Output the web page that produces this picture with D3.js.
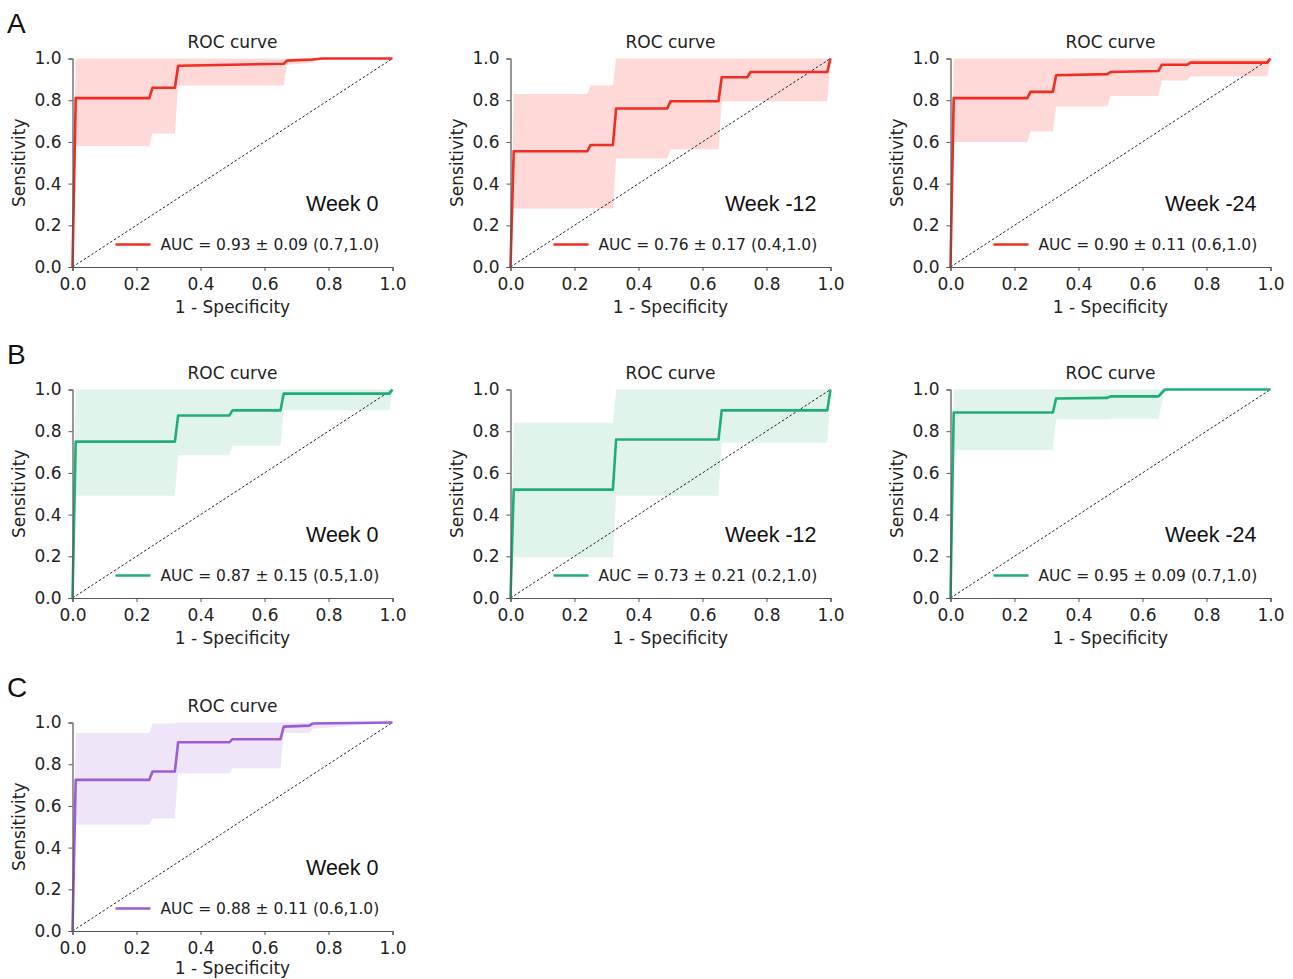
<!DOCTYPE html>
<html><head><meta charset="utf-8">
<script src="https://cdn.jsdelivr.net/npm/d3@7"></script>
<style>
body{margin:0;background:#fff;}
svg{display:block;}
.tick text{font-family:"DejaVu Sans",sans-serif;font-size:17px;fill:#222;}
</style></head>
<body><svg id="c" width="1293" height="979"></svg>
<script>
// ---- data ----
const xTicks = [0, 0.2, 0.4, 0.6, 0.8, 1.0];
const yTicks = [0, 0.2, 0.4, 0.6, 0.8, 1.0];

const a1Fpr = [0, 0.01, 0.24, 0.25, 0.32, 0.33, 0.66, 0.67, 0.75, 0.78, 1.0];
const a1Tpr = [0, 0.81, 0.81, 0.86, 0.86, 0.965, 0.975, 0.99, 0.995, 1.0, 1.0];
const a1Lo  = [0, 0.58, 0.58, 0.64, 0.64, 0.87, 0.87, 0.97, 0.98, 1.0, 1.0];
const a1Hi  = [0, 1, 1, 1, 1, 1, 1, 1, 1, 1, 1];

const a2Fpr = [0, 0.01, 0.24, 0.25, 0.32, 0.33, 0.49, 0.5, 0.65, 0.66, 0.74, 0.75, 0.99, 1.0];
const a2Tpr = [0, 0.555, 0.555, 0.585, 0.585, 0.76, 0.76, 0.795, 0.795, 0.91, 0.91, 0.935, 0.935, 1.0];
const a2Lo  = [0, 0.28, 0.28, 0.28, 0.28, 0.52, 0.52, 0.565, 0.565, 0.795, 0.795, 0.795, 0.795, 1.0];
const a2Hi  = [0, 0.83, 0.83, 0.87, 0.87, 1, 1, 1, 1, 1, 1, 1, 1, 1];

const a3Fpr = [0, 0.01, 0.24, 0.25, 0.32, 0.33, 0.49, 0.5, 0.65, 0.66, 0.74, 0.75, 0.99, 1.0];
const a3Tpr = [0, 0.81, 0.81, 0.84, 0.84, 0.92, 0.925, 0.935, 0.94, 0.97, 0.97, 0.98, 0.98, 1.0];
const a3Lo  = [0, 0.6, 0.6, 0.65, 0.65, 0.77, 0.77, 0.82, 0.82, 0.895, 0.895, 0.915, 0.915, 1.0];
const a3Hi  = [0, 1, 1, 1, 1, 1, 1, 1, 1, 1, 1, 1, 1, 1];

const b1Fpr = [0, 0.01, 0.32, 0.33, 0.49, 0.5, 0.65, 0.66, 0.99, 1.0];
const b1Tpr = [0, 0.75, 0.75, 0.875, 0.875, 0.9, 0.9, 0.98, 0.98, 1.0];
const b1Lo  = [0, 0.49, 0.49, 0.685, 0.685, 0.73, 0.73, 0.9, 0.9, 1.0];
const b1Hi  = [0, 1, 1, 1, 1, 1, 1, 1, 1, 1];

const b2Fpr = [0, 0.01, 0.32, 0.33, 0.65, 0.66, 0.99, 1.0];
const b2Tpr = [0, 0.52, 0.52, 0.76, 0.76, 0.9, 0.9, 1.0];
const b2Lo  = [0, 0.195, 0.195, 0.49, 0.49, 0.745, 0.745, 1.0];
const b2Hi  = [0, 0.84, 0.84, 1, 1, 1, 1, 1];

const b3Fpr = [0, 0.01, 0.32, 0.33, 0.49, 0.5, 0.65, 0.67, 1.0];
const b3Tpr = [0, 0.89, 0.89, 0.957, 0.96, 0.967, 0.967, 1.0, 1.0];
const b3Lo  = [0, 0.71, 0.71, 0.857, 0.857, 0.86, 0.86, 1.0, 1.0];
const b3Hi  = [0, 1, 1, 1, 1, 1, 1, 1, 1];

const c1Fpr = [0, 0.01, 0.24, 0.25, 0.32, 0.33, 0.49, 0.5, 0.65, 0.66, 0.74, 0.75, 1.0];
const c1Tpr = [0, 0.725, 0.725, 0.765, 0.765, 0.905, 0.905, 0.92, 0.92, 0.98, 0.985, 0.995, 1.0];
const c1Lo  = [0, 0.51, 0.51, 0.54, 0.54, 0.755, 0.755, 0.78, 0.78, 0.95, 0.95, 0.97, 1.0];
const c1Hi  = [0, 0.95, 0.95, 0.995, 0.995, 1, 1, 1, 1, 1, 1, 1, 1];

const weekLabels = ["Week 0", "Week -12", "Week -24", "Week 0", "Week -12", "Week -24", "Week 0"];
const aucLabels = [
  "AUC = 0.93 \u00b1 0.09 (0.7,1.0)",
  "AUC = 0.76 \u00b1 0.17 (0.4,1.0)",
  "AUC = 0.90 \u00b1 0.11 (0.6,1.0)",
  "AUC = 0.87 \u00b1 0.15 (0.5,1.0)",
  "AUC = 0.73 \u00b1 0.21 (0.2,1.0)",
  "AUC = 0.95 \u00b1 0.09 (0.7,1.0)",
  "AUC = 0.88 \u00b1 0.11 (0.6,1.0)"
];
const panelLetters = ["A", "B", "C"];

// ---- layout ----
const colX = [72.5, 510.5, 950.5];
const rowY = [58.5, 389.5, 722.5];
const W = 320, H = 208.5;
const palette = {
  red:    {line: "#ef2d22", fill: "#ff7070", op: 0.27},
  green:  {line: "#1fae78", fill: "#22b07a", op: 0.14},
  purple: {line: "#9d5bd6", fill: "#9d5bd6", op: 0.16}
};

const panels = [
  {r:0, c:0, fpr:a1Fpr, tpr:a1Tpr, lo:a1Lo, hi:a1Hi, col:"red"},
  {r:0, c:1, fpr:a2Fpr, tpr:a2Tpr, lo:a2Lo, hi:a2Hi, col:"red"},
  {r:0, c:2, fpr:a3Fpr, tpr:a3Tpr, lo:a3Lo, hi:a3Hi, col:"red"},
  {r:1, c:0, fpr:b1Fpr, tpr:b1Tpr, lo:b1Lo, hi:b1Hi, col:"green"},
  {r:1, c:1, fpr:b2Fpr, tpr:b2Tpr, lo:b2Lo, hi:b2Hi, col:"green"},
  {r:1, c:2, fpr:b3Fpr, tpr:b3Tpr, lo:b3Lo, hi:b3Hi, col:"green"},
  {r:2, c:0, fpr:c1Fpr, tpr:c1Tpr, lo:c1Lo, hi:c1Hi, col:"purple"}
];

const svg = d3.select("#c");
const x = d3.scaleLinear().domain([0, 1]).range([0, W]);
const y = d3.scaleLinear().domain([0, 1]).range([H, 0]);

panelLetters.forEach((L, i) => {
  svg.append("text").attr("x", 7).attr("y", rowY[i] - 25.5)
    .attr("font-family", "Liberation Sans, Arial, sans-serif").attr("font-size", 28)
    .attr("fill", "#111").text(L);
});

panels.forEach((p, i) => {
  const g = svg.append("g").attr("transform", `translate(${colX[p.c]},${rowY[p.r]})`);
  const pal = palette[p.col];
  const pts = p.fpr.map((f, k) => ({f, t: p.tpr[k], lo: p.lo[k], hi: p.hi[k]}));

  g.append("path").datum(pts)
    .attr("d", d3.area().x(d => x(d.f)).y0(d => y(d.lo)).y1(d => y(d.hi)))
    .attr("fill", pal.fill).attr("fill-opacity", pal.op);

  g.append("line").attr("x1", x(0)).attr("y1", y(0)).attr("x2", x(1)).attr("y2", y(1))
    .attr("stroke", "#222").attr("stroke-width", 1).attr("stroke-dasharray", "2.5,2");

  g.append("path").datum(pts)
    .attr("d", d3.line().x(d => x(d.f)).y(d => y(d.t)))
    .attr("fill", "none").attr("stroke", pal.line).attr("stroke-width", 2.6)
    .attr("stroke-linejoin", "round");

  const xa = g.append("g").attr("transform", `translate(0,${H})`)
    .call(d3.axisBottom(x).tickValues(xTicks).tickFormat(d3.format(".1f")).tickSize(4).tickPadding(7));
  const ya = g.append("g")
    .call(d3.axisLeft(y).tickValues(yTicks).tickFormat(d3.format(".1f")).tickSize(4).tickPadding(7));
  [xa, ya].forEach(a => {
    a.select(".domain").attr("stroke", "#555").attr("stroke-width", 1.2);
    a.selectAll(".tick line").attr("stroke", "#555");
  });

  g.append("text").attr("x", W / 2).attr("y", -11).attr("text-anchor", "middle")
    .attr("font-family", "DejaVu Sans, sans-serif").attr("font-size", 17).attr("fill", "#222")
    .text("ROC curve");
  const xlabY = Math.min(H + 46, 979 - rowY[p.r] - 5);
  g.append("text").attr("x", W / 2).attr("y", xlabY).attr("text-anchor", "middle")
    .attr("font-family", "DejaVu Sans, sans-serif").attr("font-size", 17).attr("fill", "#222")
    .text("1 - Specificity");
  g.append("text").attr("transform", `translate(-48,${H / 2}) rotate(-90)`).attr("text-anchor", "middle")
    .attr("font-family", "DejaVu Sans, sans-serif").attr("font-size", 17).attr("fill", "#222")
    .text("Sensitivity");

  g.append("text").attr("x", 306).attr("y", 152.5).attr("text-anchor", "end")
    .attr("font-family", "Liberation Sans, Arial, sans-serif").attr("font-size", 21.5).attr("fill", "#111")
    .text(weekLabels[i]);

  g.append("line").attr("x1", 43).attr("x2", 78).attr("y1", 186).attr("y2", 186)
    .attr("stroke", pal.line).attr("stroke-width", 2.6);
  g.append("text").attr("x", 88).attr("y", 186).attr("dy", "0.35em")
    .attr("font-family", "DejaVu Sans, sans-serif").attr("font-size", 15.5).attr("fill", "#222")
    .text(aucLabels[i]);
});
</script></body></html>
